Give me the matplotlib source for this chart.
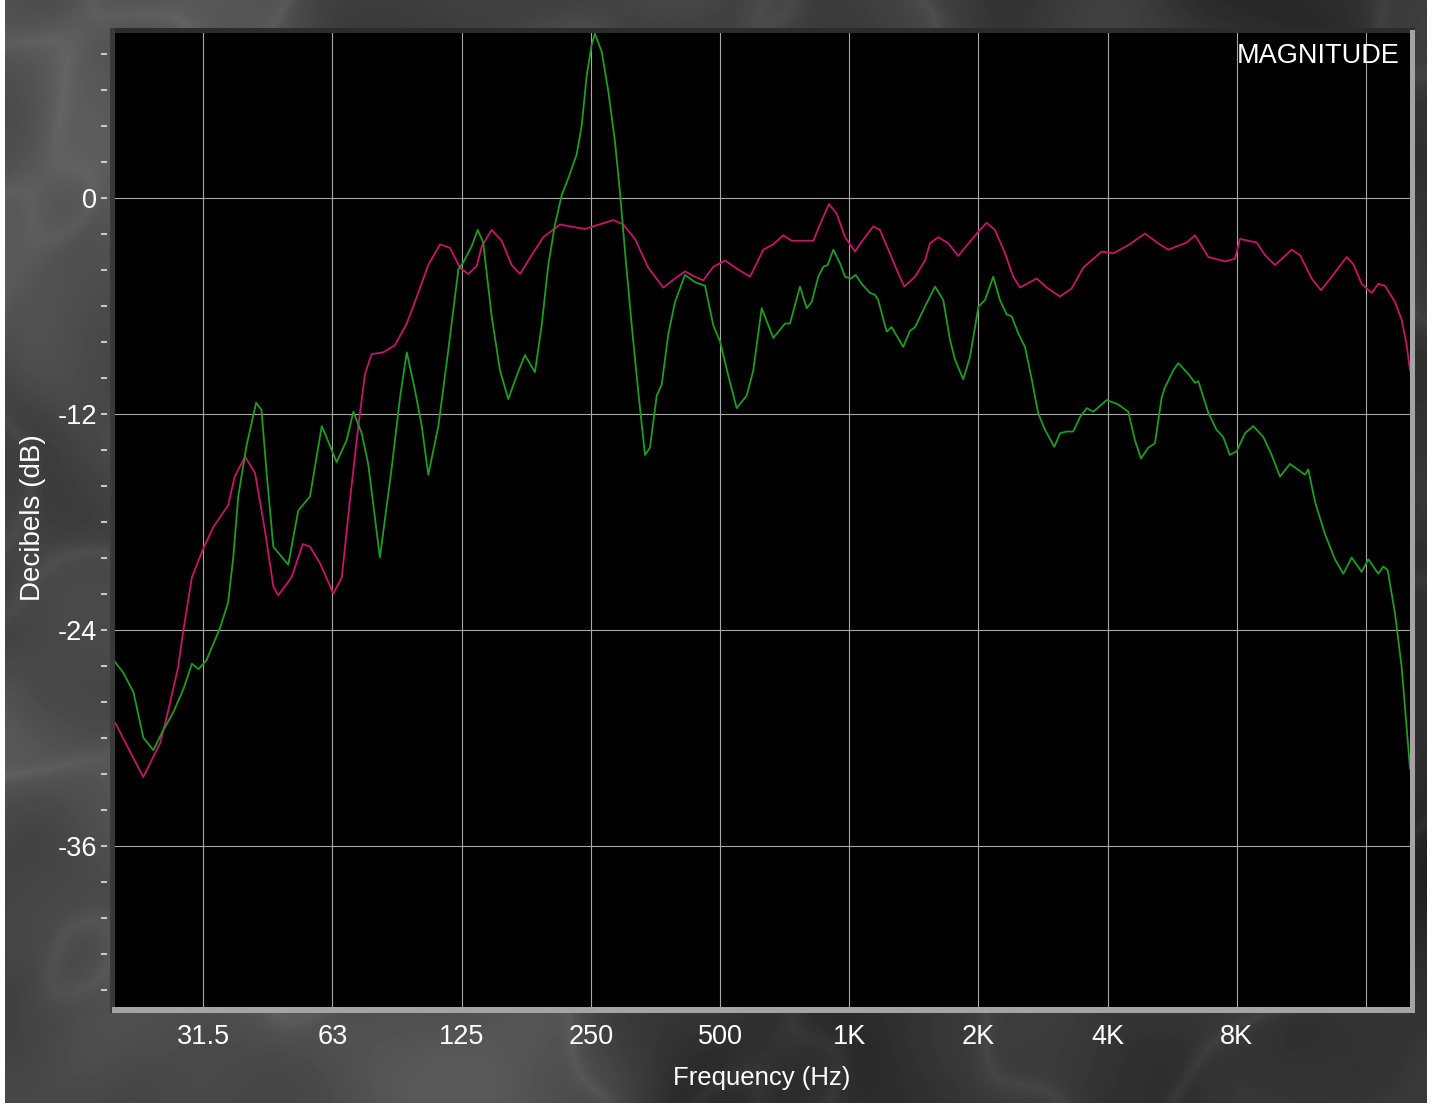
import numpy as np
import matplotlib
matplotlib.use("Agg")
import matplotlib.pyplot as plt
from matplotlib.patches import Rectangle
from matplotlib.ticker import NullLocator

plt.rcParams["font.family"] = ["Liberation Sans", "DejaVu Sans"]

# ---- measured responses -------------------------------------------------
red_freq = [19.5, 22.65, 24.8, 25.9, 27.3, 28.1, 29.4, 31.25, 33.0, 35.7,
            37.0, 39.1, 41.25, 43.5, 45.5, 46.7, 50.2, 53.3, 55.4, 58.4,
            62.8, 65.7, 68.65, 71.8, 74.4, 77.1, 82.1, 87.4, 93.1, 99.0,
            104.5, 111.3, 117.4, 123.9, 129.5, 135.5, 139.2, 146.8, 154.9, 163.4,
            170.9, 182.0, 193.7, 211.8, 242.2, 281.9, 297.5, 316.7, 340.1, 368.7,
            392.6, 414.2, 437.0, 457.0, 482.1, 513.3, 551.3, 587.0, 608.6, 630.4,
            665.2, 701.8, 734.2, 824.5, 854.5, 896.8, 934.7, 977.3, 1031, 1069,
            1137, 1179, 1233, 1289, 1343, 1423, 1501, 1542, 1612, 1701,
            1795, 1843, 1981, 2090, 2185, 2306, 2410, 2499, 2733, 2884,
            3097, 3298, 3509, 3873, 4122, 4467, 4886, 5248, 5536, 6112,
            6390, 6862, 7505, 7919, 8134, 8504, 8897, 9302, 9815, 10734,
            11223, 11950, 12562, 13303, 14418, 14938, 15627, 16488, 17082, 17707,
            18683, 19366, 19893, 20248]
red_db = [-29.2, -32.2, -30.3, -28.5, -26.1, -24.0, -21.1, -19.5, -18.3, -17.1,
          -15.5, -14.4, -15.3, -18.5, -21.6, -22.1, -21.1, -19.25, -19.4, -20.3,
          -22.0, -21.1, -16.8, -12.7, -9.8, -8.7, -8.6, -8.2, -7.0, -5.3,
          -3.75, -2.6, -2.8, -3.9, -4.25, -3.8, -2.7, -1.8, -2.4, -3.75,
          -4.25, -3.2, -2.2, -1.5, -1.75, -1.25, -1.5, -2.3, -3.9, -5.0,
          -4.5, -4.1, -4.4, -4.6, -3.85, -3.5, -4.0, -4.4, -3.65, -2.9,
          -2.6, -2.1, -2.4, -2.4, -1.5, -0.36, -0.9, -2.2, -3.0, -2.45,
          -1.6, -1.8, -2.9, -4.0, -4.95, -4.4, -3.5, -2.55, -2.2, -2.55,
          -3.25, -2.9, -2.0, -1.4, -1.8, -3.1, -4.4, -5.0, -4.5, -5.0,
          -5.5, -5.05, -3.9, -3.0, -3.1, -2.65, -2.0, -2.55, -2.9, -2.5,
          -2.1, -3.3, -3.55, -3.4, -2.3, -2.4, -2.5, -3.2, -3.75, -2.9,
          -3.2, -4.5, -5.15, -4.4, -3.3, -3.7, -4.8, -5.3, -4.8, -4.9,
          -5.8, -6.8, -8.2, -9.6]

green_freq = [19.46, 20.35, 21.5, 22.65, 23.9, 25.2, 26.6, 28.1, 29.4, 30.45,
              31.8, 34.2, 35.7, 36.7, 37.7, 39.4, 41.5, 42.7, 43.9, 45.5,
              49.3, 52.0, 55.4, 59.0, 60.0, 63.9, 67.4, 69.9, 73.1, 75.7,
              80.6, 85.9, 89.8, 93.1, 97.3, 100.9, 104.5, 110.3, 116.3, 122.8,
              126.1, 131.9, 136.2, 140.3, 146.8, 153.5, 160.5, 167.9, 175.5, 185.2,
              192.0, 198.9, 206.2, 213.8, 221.5, 231.7, 238.0, 244.5, 251.1, 255.5,
              264.9, 274.5, 284.5, 292.2, 300.2, 311.2, 322.4, 334.2, 343.2, 355.9,
              365.5, 378.7, 392.6, 414.2, 437.0, 461.1, 482.1, 500.0, 522.5, 546.6,
              576.7, 597.5, 625.0, 665.2, 708.2, 727.5, 767.6, 795.8, 817.4, 846.8,
              869.8, 890.6, 917.8, 951.3, 977.3, 1009, 1035, 1069, 1117, 1148,
              1168, 1222, 1255, 1336, 1385, 1423, 1501, 1584, 1656, 1716,
              1763, 1843, 1911, 2000, 2071, 2165, 2244, 2327, 2390, 2476,
              2567, 2661, 2756, 2857, 3004, 3097, 3210, 3326, 3448, 3574,
              3703, 3979, 4234, 4467, 4631, 4782, 4973, 5155, 5344, 5439,
              5687, 5842, 6164, 6390, 6504, 6862, 7170, 7433, 7701, 7990,
              8355, 8736, 9217, 9642, 10080, 10637, 11223, 11528, 11734, 12163,
              12834, 13540, 14158, 14812, 15627, 16190, 17082, 17547, 17965, 18683,
              19366, 20248]
green_db = [-25.8, -26.4, -27.5, -30.0, -30.7, -29.6, -28.6, -27.3, -25.9, -26.2,
            -25.7, -23.9, -22.5, -20.0, -16.6, -13.8, -11.4, -11.8, -15.3, -19.4,
            -20.4, -17.4, -16.6, -12.7, -13.1, -14.7, -13.5, -11.9, -13.1, -14.8,
            -20.0, -15.0, -11.1, -8.6, -10.7, -12.7, -15.4, -12.7, -8.5, -4.0,
            -3.6, -2.7, -1.8, -2.5, -6.6, -9.6, -11.2, -9.9, -8.75, -9.7,
            -7.1, -3.75, -1.5, 0.14, 1.07, 2.4, 4.0, 6.8, 8.5, 9.1,
            8.1, 5.9, 3.1, 0.3, -3.0, -7.1, -10.8, -14.3, -13.9, -11.0,
            -10.4, -7.6, -5.8, -4.3, -4.7, -4.9, -7.1, -8.0, -9.9, -11.7,
            -11.0, -9.6, -6.15, -7.8, -7.0, -7.0, -4.95, -6.15, -5.8, -4.4,
            -3.85, -3.75, -2.9, -3.65, -4.4, -4.5, -4.3, -4.8, -5.3, -5.4,
            -5.7, -7.45, -7.2, -8.3, -7.4, -7.2, -6.05, -4.95, -5.7, -7.9,
            -9.0, -10.1, -8.85, -6.05, -5.7, -4.4, -5.7, -6.5, -6.6, -7.55,
            -8.3, -10.1, -12.0, -12.9, -13.85, -13.1, -13.0, -13.0, -12.2, -11.7,
            -11.9, -11.25, -11.5, -11.9, -13.5, -14.5, -13.9, -13.65, -11.1, -10.55,
            -9.6, -9.2, -9.8, -10.3, -10.2, -11.95, -12.9, -13.3, -14.3, -14.1,
            -13.1, -12.7, -13.3, -14.3, -15.5, -14.8, -15.2, -15.4, -15.1, -16.9,
            -18.7, -20.1, -20.9, -20.0, -20.8, -20.1, -20.9, -20.5, -20.7, -23.1,
            -26.1, -31.7]

octave_ticks = [31.25, 62.5, 125, 250, 500, 1000, 2000, 4000, 8000, 16000]
octave_labels = ["31.5", "63", "125", "250", "500", "1K", "2K", "4K", "8K", ""]
db_major = [0, -12, -24, -36]
db_minor = list(range(-44, 9, 2))

# ---- figure --------------------------------------------------------------
W, H = 1433, 1109
fig = plt.figure(figsize=(W / 100, H / 100), dpi=100)
fig.patch.set_facecolor("white")


def px_box(x0, y0, x1, y1):
    return [x0 / W, 1 - y1 / H, (x1 - x0) / W, (y1 - y0) / H]


def px_rect(x0, y0, x1, y1, color):
    l, b, w, h = px_box(x0, y0, x1, y1)
    fig.add_artist(Rectangle((l, b), w, h, transform=fig.transFigure,
                             facecolor=color, edgecolor="none", lw=0))


# cloudy grey marble backdrop
ny, nx = 276, 356
yy = np.linspace(0, 1, ny)[:, None]
xx = np.linspace(0, nx / ny, nx)[None, :]
warp = (np.sin(2.3 * xx + 3.1 * yy + 0.4)
        + 0.6 * np.sin(5.3 * xx - 4.1 * yy + 1.7)
        + 0.35 * np.sin(11.7 * xx + 9.2 * yy + 2.9)
        + 0.2 * np.sin(23.0 * xx - 19.0 * yy + 0.3)
        + 0.12 * np.sin(41.0 * xx + 37.0 * yy + 1.1))
clouds = (0.5 + 0.22 * np.sin(3.1 * xx + 1.9 * yy + warp)
          + 0.14 * np.sin(7.7 * xx - 6.3 * yy + 1.5 * warp)
          + 0.09 * np.sin(15.0 * xx + 13.0 * yy - warp)
          + 0.05 * np.sin(31.0 * xx - 27.0 * yy + 2.0 * warp))
veins = 1 - np.abs(np.sin(3.0 * warp + 5.0 * xx))
tex = 0.12 + 0.24 * clouds + 0.05 * veins ** 4
tex = np.clip(tex, 0, 1)
bg = fig.add_axes(px_box(5, 0, 1427, 1103))
bg.imshow(tex, cmap="gray", vmin=0, vmax=1, aspect="auto",
          interpolation="bicubic")
bg.axis("off")

# bevelled frame around the plot
px_rect(110, 28, 1415, 33, "#2c2c2c")
px_rect(110, 28, 115, 1013, "#3a3a3a")
px_rect(112, 1007, 1415, 1013, "#a4a4a4")
px_rect(1410, 30, 1415, 1013, "#a4a4a4")

# ---- plot ----------------------------------------------------------------
ax = fig.add_axes(px_box(115, 33, 1410, 1007))
ax.set_facecolor("black")
ax.set_xscale("log")
ax.set_xlim(19.46, 20250)
ax.set_ylim(-44.97, 9.14)

ax.plot(red_freq, red_db, color="#c8146a", lw=1.3, zorder=3)
ax.plot(green_freq, green_db, color="#1f9c22", lw=1.3, zorder=4)

ax.set_xticks(octave_ticks)
ax.set_xticklabels(octave_labels)
ax.xaxis.set_minor_locator(NullLocator())
ax.set_yticks(db_major)
ax.set_yticks(db_minor, minor=True)
ax.set_yticklabels([str(v) for v in db_major])
ax.grid(True, which="major", color="#a8a8a8", lw=0.8)

for s in ax.spines.values():
    s.set_color("none")
ax.spines["left"].set_position(("outward", 6))

ax.tick_params(axis="x", which="both", length=0, pad=12,
               labelsize=19.5, labelcolor="white")
ax.tick_params(axis="y", which="both", direction="out", length=4, width=1.5,
               color="#c8c8c8", pad=3, labelsize=19.5, labelcolor="white")

fig.text(33 / W, 1 - 518 / H, "Decibels (dB)", rotation=90, color="white",
         fontsize=20, ha="center", va="center")
fig.text(762 / W, 1 - 1078 / H, "Frequency (Hz)", color="white",
         fontsize=18.5, ha="center", va="center")
fig.text(1400 / W, 1 - 56 / H, "MAGNITUDE", color="white",
         fontsize=19.5, ha="right", va="center")

fig.savefig("out.png", dpi=100, facecolor="white")
